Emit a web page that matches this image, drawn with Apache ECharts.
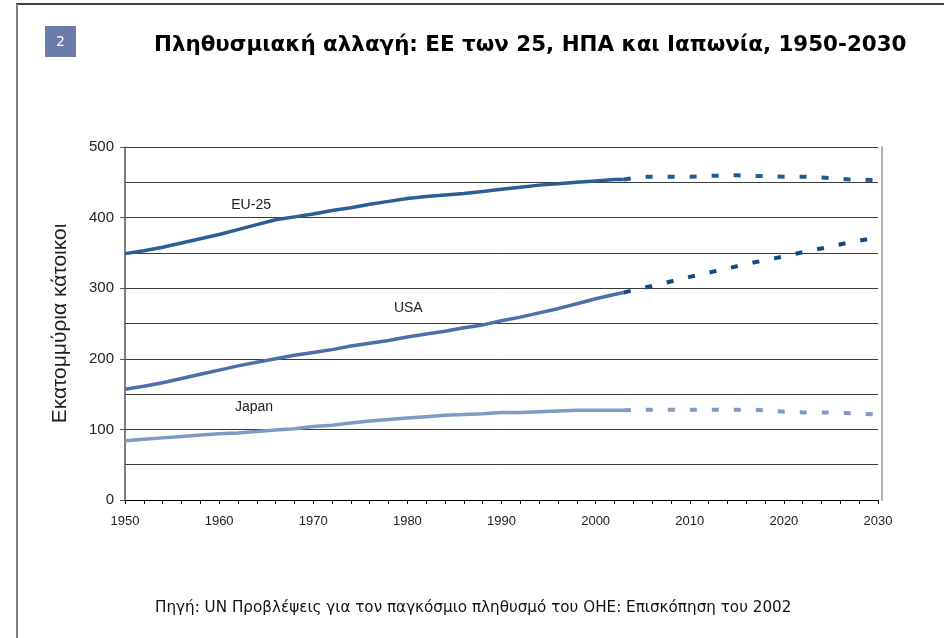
<!DOCTYPE html>
<html>
<head>
<meta charset="utf-8">
<script src="https://cdn.jsdelivr.net/npm/echarts@6/dist/echarts.min.js"></script>
<style>
  html, body { margin: 0; padding: 0; background: #fff; }
  #chart { width: 944px; height: 638px; }
</style>
</head>
<body>
<div id="chart"></div>
<script>
// historical estimates (solid) and projections (dashed), millions
var histYears = [1950, 1952, 1954, 1956, 1958, 1960, 1962, 1964, 1966, 1968, 1970, 1972, 1974, 1976,
  1978, 1980, 1982, 1984, 1986, 1988, 1990, 1992, 1994, 1996, 1998, 2000, 2002, 2003];
var euHist = [349, 353, 358, 364, 370, 376, 383, 390, 397, 401, 405, 410, 414, 419,
  423, 427, 430, 432, 434, 437, 440, 443, 446, 448, 450, 452, 454, 454];
var usaHist = [157, 161, 166, 172, 178, 184, 190, 195, 200, 205, 209, 213, 218, 222,
  226, 231, 235, 239, 244, 248, 254, 259, 265, 271, 278, 285, 291, 294];
var japanHist = [84, 86, 88, 90, 92, 94, 95, 97, 99, 101, 104, 106, 109, 112,
  114, 116, 118, 120, 121, 122, 124, 124, 125, 126, 127, 127, 127, 127];

var projYears = [2003, 2005, 2010, 2012, 2015, 2017, 2020, 2022, 2025, 2027, 2030];
var euProj = [454, 458, 458, 459, 460, 459, 458, 458, 456, 454, 453];
var usaProj = [294, 300, 316, 322, 331, 337, 345, 351, 359, 365, 372];
var japanProj = [127, 128, 128, 128, 128, 128, 125, 124, 124, 123, 121];

var yTickLabels = [0, 100, 200, 300, 400, 500];
var xTickLabels = [1950, 1960, 1970, 1980, 1990, 2000, 2010, 2020, 2030];

var titleText = 'Πληθυσμιακή αλλαγή: ΕΕ των 25, ΗΠΑ και Ιαπωνία, 1950-2030';
var sourceText = 'Πηγή: UN Προβλέψεις για τον παγκόσμιο πληθυσμό του ΟΗΕ: Επισκόπηση του 2002';

function pairs(xs, ys) {
  return xs.map(function (x, i) { return [x, ys[i]]; });
}

// series name written next to the line
function tag(name, coord) {
  return {
    symbol: 'rect',
    symbolSize: 1,
    silent: true,
    itemStyle: { color: 'rgba(0,0,0,0)' },
    data: [{ coord: coord }],
    label: {
      show: true, position: 'inside', formatter: name,
      color: '#222', fontFamily: 'Liberation Sans', fontSize: 14
    }
  };
}

function solid(name, data, color, label) {
  return {
    name: name, type: 'line', data: data, showSymbol: false, silent: true,
    lineStyle: { color: color, width: 3.5 },
    markPoint: label
  };
}

function dashed(name, data, color) {
  return {
    name: name, type: 'line', data: data, showSymbol: false, silent: true,
    lineStyle: { color: color, width: 4, type: [7, 15], cap: 'butt' }
  };
}

var chart = echarts.init(document.getElementById('chart'), null, { renderer: 'canvas' });

chart.setOption({
  animation: false,
  backgroundColor: '#fff',
  title: [{
    text: titleText,
    left: 149, top: 30,
    textStyle: { fontFamily: 'DejaVu Sans', fontWeight: 'bold', fontSize: 21.4, color: '#000' }
  }, {
    text: sourceText,
    left: 150, top: 596,
    textStyle: { fontFamily: 'DejaVu Sans', fontWeight: 'normal', fontSize: 15.2, color: '#111' }
  }],
  graphic: [
    { type: 'line', shape: { x1: 16, y1: 4, x2: 944, y2: 4 }, style: { stroke: '#000', lineWidth: 1.5 } },
    { type: 'line', shape: { x1: 17, y1: 4, x2: 17, y2: 638 }, style: { stroke: '#808080', lineWidth: 2 } },
    { type: 'rect', shape: { x: 45, y: 26, width: 31, height: 31 }, style: { fill: '#6b7ba8' } },
    {
      type: 'text', x: 60.5, y: 42,
      style: { text: '2', fill: '#fff', font: '14px "DejaVu Sans"', align: 'center', verticalAlign: 'middle' }
    }
  ],
  grid: { left: 125, top: 147, right: 66, bottom: 138, containLabel: false },
  xAxis: {
    type: 'value', min: 1950, max: 2030, interval: 2,
    axisLine: { show: true, lineStyle: { color: '#000', width: 1 } },
    axisTick: { show: true, length: 4, lineStyle: { color: '#000' } },
    axisLabel: {
      color: '#222', fontFamily: 'Liberation Sans', fontSize: 13, margin: 15,
      showMaxLabel: true,
      formatter: function (v) { return xTickLabels.indexOf(v) >= 0 ? String(v) : ''; }
    },
    splitLine: { show: false }
  },
  yAxis: [{
    type: 'value', min: 0, max: 500, interval: 100,
    name: 'Εκατομμύρια κάτοικοι', nameLocation: 'middle', nameGap: 54,
    nameTextStyle: { fontFamily: 'Liberation Sans', fontSize: 21, color: '#222' },
    axisLine: { show: true, lineStyle: { color: '#555', width: 1.5 } },
    axisTick: { show: true, length: 5, lineStyle: { color: '#555' } },
    axisLabel: {
      color: '#222', fontFamily: 'Liberation Sans', fontSize: 15, margin: 11,
      formatter: function (v) { return yTickLabels.indexOf(v) >= 0 ? String(v) : ''; }
    },
    splitLine: { show: true, lineStyle: { color: '#3a3a3a', width: 1 } },
    minorTick: { show: false, splitNumber: 2 },
    minorSplitLine: { show: true, lineStyle: { color: '#3a3a3a', width: 1 } }
  }, {
    type: 'value', min: 0, max: 500, position: 'right', offset: 4,
    axisLine: { show: true, lineStyle: { color: '#b0b0b0', width: 2 } },
    axisTick: { show: false }, axisLabel: { show: false }, splitLine: { show: false }
  }],
  series: [
    solid('EU-25', pairs(histYears, euHist), '#2b5e92', tag('EU-25', [1963.4, 418])),
    dashed('EU-25 proj', pairs(projYears, euProj), '#225b8f'),
    solid('USA', pairs(histYears, usaHist), '#4b70a8', tag('USA', [1980.1, 272])),
    dashed('USA proj', pairs(projYears, usaProj), '#0f4a82'),
    solid('Japan', pairs(histYears, japanHist), '#7e9bc6', tag('Japan', [1963.7, 131])),
    dashed('Japan proj', pairs(projYears, japanProj), '#7f9bc5')
  ]
});
</script>
</body>
</html>
